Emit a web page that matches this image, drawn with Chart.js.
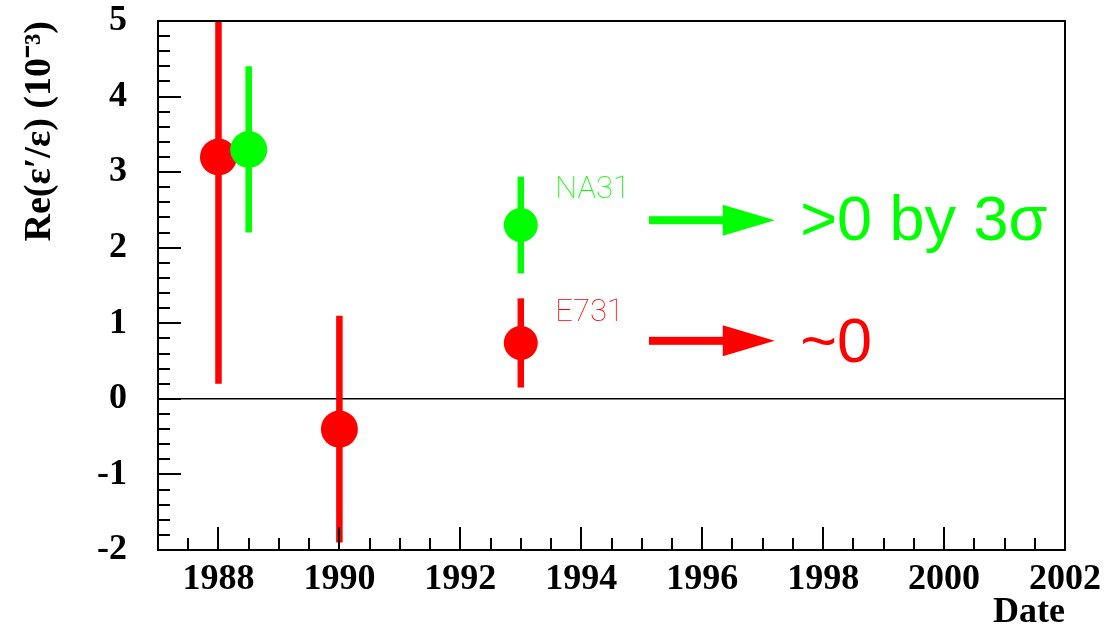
<!DOCTYPE html>
<html>
<head>
<meta charset="utf-8">
<script src="https://cdn.jsdelivr.net/npm/chart.js@4.4.1/dist/chart.umd.min.js"></script>
<style>
  html, body { margin: 0; padding: 0; background: #ffffff; }
  #wrap { width: 1109px; height: 640px; }
</style>
</head>
<body>
<div id="wrap"><canvas id="chart" width="1109" height="640"></canvas></div>
<script>
// Measurements of Re(eps'/eps), in units of 1e-3
const e731Years  = [1988, 1990];
const e731Values = [3.2, -0.4];
const e731Errors = [3.0, 1.5];

const na31Years  = [1988.5];
const na31Values = [3.3];
const na31Errors = [1.1];

// Key markers drawn inside the frame, with their short labels
const keyYear      = 1993;
const keyNA31      = [2.30];
const keyNA31Error = [0.64];
const keyE731      = [0.74];
const keyE731Error = [0.59];

// Axis ranges and tick labels
const xRange = [1987, 2002];
const yRange = [-2, 5];
const xTickLabels = [1988, 1990, 1992, 1994, 1996, 1998, 2000, 2002];
const yTickLabels = [-2, -1, 0, 1, 2, 3, 4, 5];

const RED = '#ff0000';
const GREEN = '#00ff00';

function points(xs, ys) {
  return xs.map((x, i) => ({ x: x, y: ys[i] }));
}

// one vertical error bar per measurement, as a two-point line dataset
function errorBars(xs, ys, errs, color, order) {
  return xs.map((x, i) => ({
    type: 'line',
    data: [{ x: x, y: ys[i] - errs[i] }, { x: x, y: ys[i] + errs[i] }],
    borderColor: color,
    borderWidth: 6.5,
    borderCapStyle: 'butt',
    pointRadius: 0,
    fill: false,
    clip: 0,
    order: order
  }));
}

function markers(xs, ys, color, radius, order) {
  return {
    type: 'scatter',
    data: points(xs, ys),
    backgroundColor: color,
    borderWidth: 0,
    pointRadius: radius,
    pointHoverRadius: radius,
    order: order
  };
}

const datasets = [
  ...errorBars(e731Years, e731Values, e731Errors, RED, 10),
  markers(e731Years, e731Values, RED, 18.5, 9),
  ...errorBars(na31Years, na31Values, na31Errors, GREEN, 8),
  markers(na31Years, na31Values, GREEN, 18.5, 7),
  ...errorBars([keyYear], keyNA31, keyNA31Error, GREEN, 6),
  markers([keyYear], keyNA31, GREEN, 17, 5),
  ...errorBars([keyYear], keyE731, keyE731Error, RED, 4),
  markers([keyYear], keyE731, RED, 17, 3)
];

// Labels and arrows beside the key markers, placed in data coordinates
const keyTexts = [
  { text: 'NA31', x: 1993.57, y: 2.66, color: GREEN, font: '100 31px Roboto, "Liberation Sans", sans-serif' },
  { text: 'E731', x: 1993.57, y: 1.03, color: RED,   font: '100 31px Roboto, "Liberation Sans", sans-serif' },
  { text: '>0 by 3\u03C3', x: 1997.62, y: 2.106, color: GREEN, font: '63px "Liberation Sans", Arial, sans-serif' },
  { text: '~0', x: 1997.62, y: 0.49, color: RED, font: '63px "Liberation Sans", Arial, sans-serif' }
];
const keyArrows = [
  { x0: 1995.12, xHead: 1996.34, x1: 1997.20, y: 2.364, color: GREEN },
  { x0: 1995.12, xHead: 1996.34, x1: 1997.20, y: 0.768, color: RED }
];

const frameAndTicks = {
  id: 'frameAndTicks',
  afterDatasetsDraw(chart) {
    const { ctx, chartArea: a, scales: { x, y } } = chart;
    ctx.save();
    ctx.strokeStyle = '#000';
    ctx.lineWidth = 2;
    ctx.beginPath();
    // y ticks every 0.2, major every 1, pointing inward
    for (let i = 1; i < 35; i++) {
      const v = yRange[0] + i * 0.2;
      const py = Math.round(y.getPixelForValue(v));
      const len = (i % 5 === 0) ? 23 : 12;
      ctx.moveTo(a.left, py);
      ctx.lineTo(a.left + len, py);
    }
    // x ticks every half year, major every two years
    for (let i = 1; i < 30; i++) {
      const v = xRange[0] + i * 0.5;
      const px = Math.round(x.getPixelForValue(v));
      const len = (v % 2 === 0) ? 23 : 12;
      ctx.moveTo(px, a.bottom);
      ctx.lineTo(px, a.bottom - len);
    }
    ctx.stroke();
    ctx.strokeRect(a.left, a.top, a.right - a.left, a.bottom - a.top);
    ctx.restore();
  }
};

const keyAnnotations = {
  id: 'keyAnnotations',
  afterDatasetsDraw(chart) {
    const { ctx, scales: { x, y } } = chart;
    ctx.save();
    keyArrows.forEach(ar => {
      const py = y.getPixelForValue(ar.y);
      const p0 = x.getPixelForValue(ar.x0);
      const ph = x.getPixelForValue(ar.xHead);
      const p1 = x.getPixelForValue(ar.x1);
      ctx.fillStyle = ar.color;
      ctx.fillRect(p0, py - 4, ph - p0 + 1, 8);
      ctx.beginPath();
      ctx.moveTo(ph, py - 15.5);
      ctx.lineTo(p1, py);
      ctx.lineTo(ph, py + 15.5);
      ctx.closePath();
      ctx.fill();
    });
    ctx.textAlign = 'left';
    ctx.textBaseline = 'alphabetic';
    keyTexts.forEach(t => {
      ctx.font = t.font;
      ctx.fillStyle = t.color;
      ctx.fillText(t.text, x.getPixelForValue(t.x), y.getPixelForValue(t.y));
    });
    ctx.restore();
  }
};

const tickFont = { family: '"Liberation Serif", "Times New Roman", serif', size: 36, weight: 'bold', lineHeight: 1 };

new Chart(document.getElementById('chart'), {
  type: 'scatter',
  data: { datasets: datasets },
  options: {
    responsive: false,
    animation: false,
    events: [],
    layout: { padding: { left: 0, top: 21, right: 44, bottom: 0 } },
    plugins: { legend: { display: false }, tooltip: { enabled: false } },
    scales: {
      x: {
        type: 'linear',
        min: xRange[0],
        max: xRange[1],
        afterBuildTicks: s => { s.ticks = xTickLabels.map(v => ({ value: v })); },
        afterFit: s => { s.height = 90; s.paddingLeft = 0; s.paddingRight = 0; },
        grid: { display: false, drawTicks: false },
        border: { display: false },
        ticks: {
          color: '#000',
          font: tickFont,
          padding: 12,
          maxRotation: 0,
          autoSkip: false,
          callback: v => String(v)
        },
        title: {
          display: true,
          text: 'Date',
          align: 'end',
          color: '#000',
          font: tickFont,
          padding: { top: 0, bottom: 9 }
        }
      },
      y: {
        type: 'linear',
        min: yRange[0],
        max: yRange[1],
        afterBuildTicks: s => { s.ticks = yTickLabels.map(v => ({ value: v })); },
        afterFit: s => { s.width = 158; s.paddingTop = 0; s.paddingBottom = 0; },
        grid: {
          drawTicks: false,
          lineWidth: 1.5,
          color: c => (c.tick && c.tick.value === 0) ? '#000' : 'rgba(0,0,0,0)'
        },
        border: { display: false },
        ticks: {
          color: '#000',
          font: tickFont,
          padding: 31,
          autoSkip: false,
          callback: v => String(v)
        },
        title: {
          display: true,
          text: 'Re(\u03B5\u2032/\u03B5) (10\u207B\u00B3)',
          align: 'end',
          color: '#000',
          font: { family: '"Liberation Serif", "Times New Roman", serif', size: 38, weight: 'bold', lineHeight: 1 },
          padding: { top: 21, bottom: 0 }
        }
      }
    }
  },
  plugins: [frameAndTicks, keyAnnotations]
});
</script>
</body>
</html>
